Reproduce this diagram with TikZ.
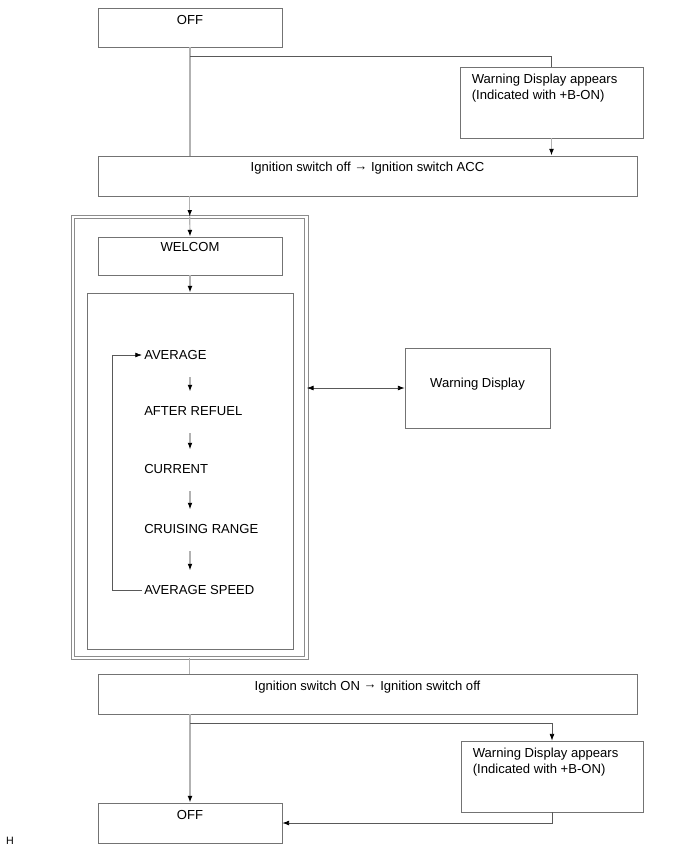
\documentclass[tikz,border=0pt]{standalone}
\usepackage{fontspec}
\setmainfont{Liberation Sans}
\usetikzlibrary{arrows.meta,fit,positioning}

\begin{document}
\begin{tikzpicture}[x=0.75pt, y=-0.75pt,
    box/.style={draw=black!55, line width=0.6pt, inner sep=0pt},
    txt/.style={inner sep=0pt, font=\fontsize{9.8}{12}\selectfont},
    tip/.style={-{Latex[length=5pt, width=3.6pt, color=black]}},
    trunk/.style={draw=black!30, line width=0.9pt},
    wire/.style={draw=black!65, line width=0.5pt}]
    \useasboundingbox (0,0) rectangle (689,854);
    % Блоки
    \node[box, fit={(98,8) (282,47)}] (off1) {};
    \node[box, fit={(460,67) (643,138)}] (warn1) {};
    \node[box, fit={(98,156) (637,196)}] (ign1) {};
    \node[draw=black!45, line width=0.5pt, double, double distance=2.2pt, inner sep=0pt, fit={(73,217) (306.5,658)}] (frame) {};
    \node[box, fit={(98,237) (282,275)}] (welc) {};
    \node[box, fit={(87,293) (293,649)}] (menu) {};
    \node[box, fit={(405,348) (550,428)}] (wdisp) {};
    \node[box, fit={(98,674) (637,714)}] (ign2) {};
    \node[box, fit={(461,741) (643,812)}] (warn2) {};
    \node[box, fit={(98,803) (282,843)}] (off2) {};
    % Тексты
    \node[txt, below=5.8pt of off1.north] (offtxt1) {OFF};
    \node[txt, align=left, below right=5pt and 9pt of warn1.north west] (warntxt1) {Warning Display appears\\(Indicated with +B-ON)};
    \node[txt, below=4.9pt of ign1.north] (igntxt1) {Ignition switch off \raisebox{1.2pt}{→} Ignition switch ACC};
    \node[txt, below=4.4pt of welc.north] (welctxt) {WELCOM};
    \node[txt] (wdtxt) at (477.5,384) {Warning Display};
    \node[txt, below=5.4pt of ign2.north] (igntxt2) {Ignition switch ON \raisebox{1.2pt}{→} Ignition switch off};
    \node[txt, align=left, below right=5pt and 9pt of warn2.north west] (warntxt2) {Warning Display appears\\(Indicated with +B-ON)};
    \node[txt, below=5.6pt of off2.north] (offtxt2) {OFF};
    \node[txt, font=\fontsize{8}{9}\selectfont] (hmark) at (10,841) {H};
    % Меню
    \node[txt, anchor=west] (avg) at (144,355) {AVERAGE};
    \node[txt, anchor=west] (aref) at (144,411) {AFTER REFUEL};
    \node[txt, anchor=west] (cur) at (144,469) {CURRENT};
    \node[txt, anchor=west] (cru) at (144,529) {CRUISING RANGE};
    \node[txt, anchor=west] (aspd) at (144,590) {AVERAGE SPEED};
    \coordinate (col) at (190,0);
    \foreach \a/\b in {avg/aref, aref/cur, cur/cru, cru/aspd}
        \draw[trunk, tip, shorten <=13pt, shorten >=11pt] (\a.south -| col) -- (\b.north -| col);
    \draw[wire, tip] (aspd.west) ++(-2,0) -- ++(-30,0) |- ([xshift=-1.5pt]avg.west);
    % Стрелки
    \coordinate (br1) at (190,56);
    \coordinate (br2) at (190,723);
    \draw[trunk] (off1.south) -- (off1.south |- ign1.north);
    \draw[wire] (br1) -| (warn1.north);
    \draw[trunk, tip] (warn1.south) -- (warn1.south |- ign1.north);
    \draw[trunk, tip] (frame.north |- ign1.south) -- (frame.north);
    \draw[trunk, tip] (frame.north) -- (welc.north);
    \draw[trunk, tip] (welc.south) -- (welc.south |- menu.north);
    \draw[wire, {Latex[length=5pt, width=3.6pt, color=black]}-{Latex[length=5pt, width=3.6pt, color=black]}] (wdisp.west -| frame.east) -- (wdisp.west);
    \draw[trunk] (frame.south) -- (frame.south |- ign2.north);
    \draw[trunk, tip] (off2.north |- ign2.south) -- (off2.north);
    \draw[wire, tip] (br2) -| (warn2.north);
    \draw[wire, tip] (warn2.south) |- (off2.east);
\end{tikzpicture}
\end{document}
